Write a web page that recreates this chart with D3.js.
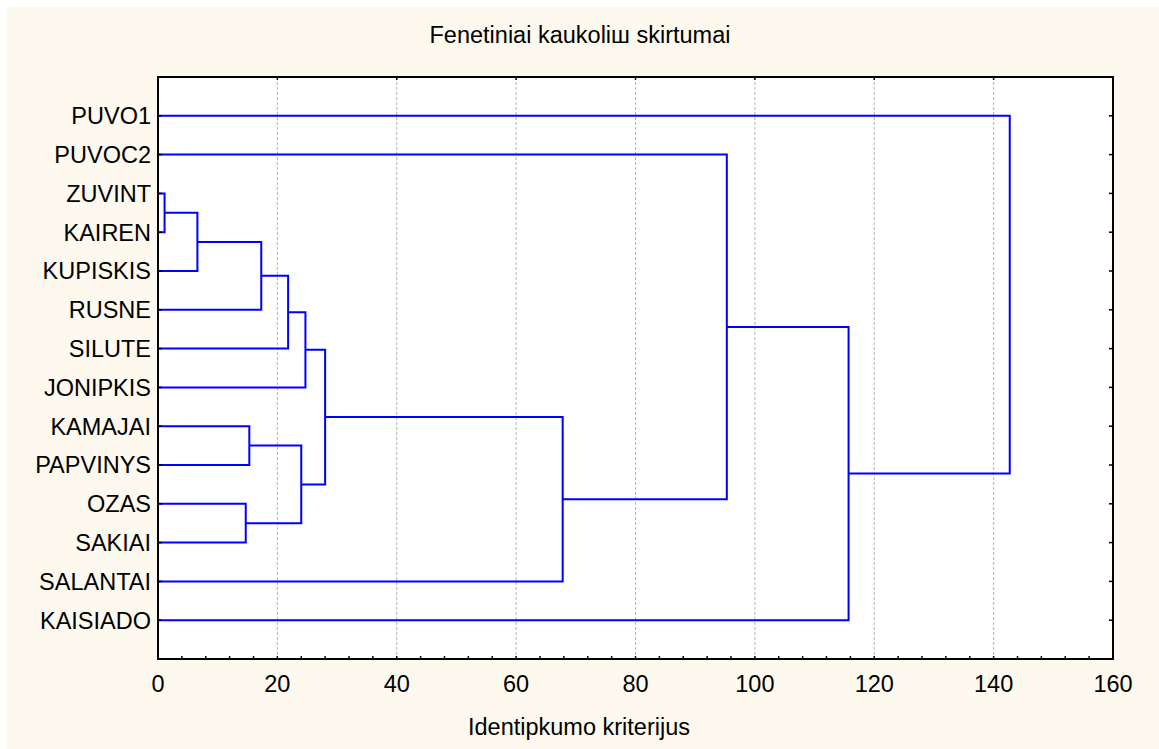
<!DOCTYPE html>
<html><head><meta charset="utf-8">
<script src="https://cdn.jsdelivr.net/npm/d3@7"></script>
<style>html,body{margin:0;padding:0;background:#fff;}svg{display:block;}</style>
</head><body>
<svg id="chart" width="1159" height="749"></svg>
<script>
// Leaf order (top to bottom)
const leaves = ["PUVO1","PUVOC2","ZUVINT","KAIREN","KUPISKIS","RUSNE","SILUTE","JONIPKIS","KAMAJAI","PAPVINYS","OZAS","SAKIAI","SALANTAI","KAISIADO"];
// Merges: [left member, right member, linkage distance]; members are leaf names or merge ids "m0".."m12"
const mergeLeft  = ["ZUVINT","m0","m1","m2","m3","KAMAJAI","OZAS","m5","m4","m8","PUVOC2","m10","PUVO1"];
const mergeRight = ["KAIREN","KUPISKIS","RUSNE","SILUTE","JONIPKIS","PAPVINYS","SAKIAI","m6","m7","SALANTAI","m9","KAISIADO","m11"];
const mergeDist  = [1.1, 6.6, 17.3, 21.8, 24.7, 15.3, 14.7, 24.0, 28.0, 67.8, 95.3, 115.7, 142.7];
const xTicks = [0,20,40,60,80,100,120,140,160];
const titleText = "Fenetiniai kaukoliш skirtumai";
const xLabel = "Identipkumo kriterijus";

const W = 1159, H = 749;
const L = 158, R = 1113, T = 77, B = 659;
const FS = 23.5;
const svg = d3.select("#chart");
const font = "'Liberation Sans', Arial, Helvetica, sans-serif";

svg.append("rect").attr("x",7).attr("y",7).attr("width",W-7).attr("height",H-7).attr("fill","#fdf9ef");
svg.append("rect").attr("x",L).attr("y",T).attr("width",R-L).attr("height",B-T).attr("fill","#fff");

const x = d3.scaleLinear().domain([0,160]).range([L,R]);
const y = d3.scaleLinear().domain([0,leaves.length+1]).range([T,B]);

// grid
svg.append("g").selectAll("line").data(xTicks.filter(d=>d>0&&d<160)).join("line")
  .attr("x1",d=>x(d)).attr("x2",d=>x(d)).attr("y1",T).attr("y2",B)
  .attr("stroke","#b4b4b4").attr("stroke-width",1).attr("stroke-dasharray","3,2");

// compute node positions
const pos = {};
leaves.forEach((n,i)=>{pos[n]={y:i+1,d:0};});
const lines = [];
mergeDist.forEach((d,i)=>{
  const a = pos[mergeLeft[i]], b = pos[mergeRight[i]];
  lines.push([[a.d,a.y],[d,a.y],[d,b.y],[b.d,b.y]]);
  pos["m"+i] = {y:(a.y+b.y)/2, d:d};
});
const line = d3.line().x(p=>x(p[0])).y(p=>y(p[1]));
svg.append("g").selectAll("path").data(lines).join("path")
  .attr("d",line).attr("fill","none").attr("stroke","#0000ff").attr("stroke-width",2);

// ticks
const tg = svg.append("g").attr("stroke","#000").attr("stroke-width",1.5);
const minor = d3.range(0,161,4);
tg.selectAll(".mb").data(minor).join("line").attr("x1",d=>x(d)).attr("x2",d=>x(d)).attr("y1",B).attr("y2",B-3);
tg.selectAll(".mt").data(xTicks).join("line").attr("x1",d=>x(d)).attr("x2",d=>x(d)).attr("y1",T).attr("y2",T+3);
tg.selectAll(".yr").data(leaves).join("line").attr("x1",R).attr("x2",R-4).attr("y1",(d,i)=>y(i+1)).attr("y2",(d,i)=>y(i+1));
tg.selectAll(".yl").data(leaves).join("line").attr("x1",L).attr("x2",L+4).attr("y1",(d,i)=>y(i+1)).attr("y2",(d,i)=>y(i+1));

// frame
svg.append("rect").attr("x",L).attr("y",T).attr("width",R-L).attr("height",B-T)
  .attr("fill","none").attr("stroke","#000").attr("stroke-width",2);

// labels
svg.append("g").selectAll("text").data(xTicks).join("text")
  .attr("x",d=>x(d)).attr("y",692).attr("text-anchor","middle")
  .attr("font-family",font).attr("font-size",FS).attr("fill","#000").text(d=>d);
svg.append("g").selectAll("text").data(leaves).join("text")
  .attr("x",151).attr("y",(d,i)=>y(i+1)).attr("dy","0.36em").attr("text-anchor","end")
  .attr("font-family",font).attr("font-size",FS).attr("fill","#000").text(d=>d);
svg.append("text").attr("x",580).attr("y",43).attr("text-anchor","middle")
  .attr("font-family",font).attr("font-size",FS).attr("fill","#000").text(titleText);
svg.append("text").attr("x",579).attr("y",735).attr("text-anchor","middle")
  .attr("font-family",font).attr("font-size",FS).attr("fill","#000").text(xLabel);
</script>
</body></html>
